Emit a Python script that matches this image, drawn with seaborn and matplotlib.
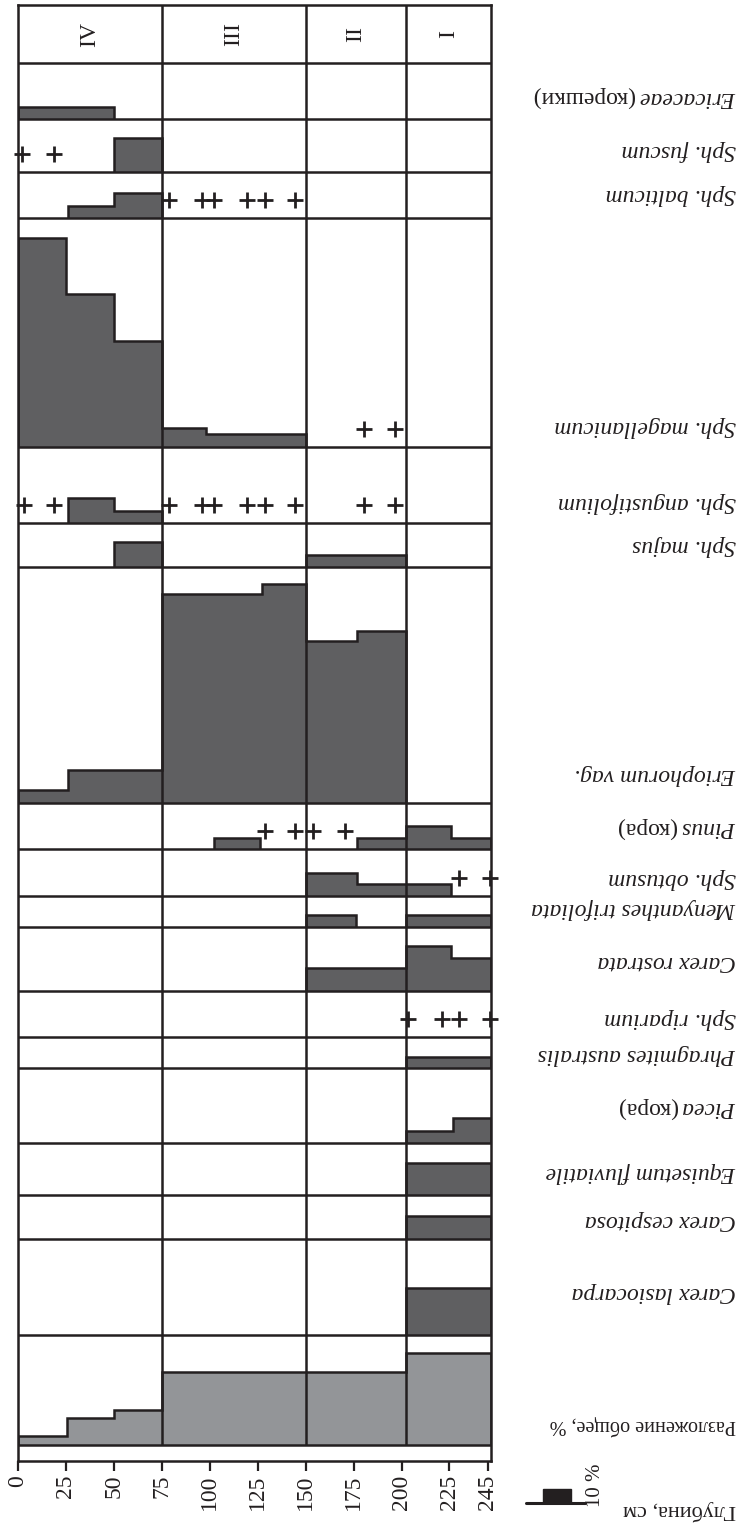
import matplotlib
matplotlib.use("Agg")
import numpy as np
import seaborn as sns
import matplotlib.pyplot as plt
import matplotlib.transforms as mtransforms
from matplotlib.patches import Rectangle
from matplotlib.lines import Line2D

sns.set_theme(style="white")
plt.rcParams['font.family'] = ['Liberation Serif', 'DejaVu Serif']

# --- data: depth segments (from, to, %) and "+" finds (depth, cm) ---
zone_names = ["IV", "III", "II", "I"]
zone_edges = [0, 75, 150, 202.5, 246.5]
depth_ticks = [0, 25, 50, 75, 100, 125, 150, 175, 200, 225, 245]

ericaceae = [(0, 50, 5)]
fuscum = [(50, 75, 14.5)]
fuscum_plus = [2, 19]
balticum = [(26, 50, 5), (50, 75, 10.5)]
balticum_plus = [79, 96, 102, 119.5, 129, 144.5]
magellanicum = [(0, 25, 89), (25, 50, 65), (50, 75, 45), (75, 98, 8), (98, 150, 5.5)]
magellanicum_plus = [180.5, 196.5]
angustifolium = [(26, 50, 10.5), (50, 75, 5)]
angustifolium_plus = [3, 19, 79, 96, 102, 119.5, 129, 144.5, 180.5, 196.5]
majus = [(50, 75, 10.5), (150, 202.5, 5)]
eriophorum = [(0, 26, 5.5), (26, 75, 14), (75, 127, 89), (127, 150, 93),
              (150, 177, 69), (177, 202.5, 73)]
pinus = [(102, 126, 4.5), (177, 202.5, 4.5), (202.5, 226, 10), (226, 246.5, 4.5)]
pinus_plus = [129, 144.5, 154, 170.5]
obtusum = [(150, 177, 10), (177, 226, 5)]
obtusum_plus = [230, 246]
menyanthes = [(150, 176, 5), (202.5, 246.5, 5)]
rostrata = [(150, 202.5, 10), (202.5, 226, 19), (226, 246.5, 14)]
riparium_plus = [203.5, 221, 230, 246]
phragmites = [(202.5, 246.5, 4.5)]
picea = [(202.5, 227, 5), (227, 246.5, 10.5)]
equisetum = [(202.5, 246.5, 13.5)]
cespitosa = [(202.5, 246.5, 10)]
lasiocarpa = [(202.5, 246.5, 20)]
decomposition = [(0, 25.5, 4), (25.5, 50, 11.5), (50, 75, 15), (75, 150, 31),
                 (150, 202.5, 31), (202.5, 246.5, 39)]

rows = [
    ("Ericaceae", "(корешки)", ericaceae, []),
    ("Sph. fuscum", "", fuscum, fuscum_plus),
    ("Sph. balticum", "", balticum, balticum_plus),
    ("Sph. magellanicum", "", magellanicum, magellanicum_plus),
    ("Sph. angustifolium", "", angustifolium, angustifolium_plus),
    ("Sph. majus", "", majus, []),
    ("Eriophorum vag.", "", eriophorum, []),
    ("Pinus", "(кора)", pinus, pinus_plus),
    ("Sph. obtusum", "", obtusum, obtusum_plus),
    ("Menyanthes trifoliata", "", menyanthes, []),
    ("Carex rostrata", "", rostrata, []),
    ("Sph. riparium", "", [], riparium_plus),
    ("Phragmites australis", "", phragmites, []),
    ("Picea", "(кора)", picea, []),
    ("Equisetum fluviatile", "", equisetum, []),
    ("Carex cespitosa", "", cespitosa, []),
    ("Carex lasiocarpa", "", lasiocarpa, []),
    ("", "Разложение общее, %", decomposition, []),
]

# --- layout (pixels) ---
W, H = 743, 1523
K = 2.35                      # px per 1 %
header_px = 58
row_px = [56, 53, 46, 229, 76, 44, 236, 46, 47, 31, 64, 46, 31, 75, 52, 44, 96, 110]
strip_px = 16
label_off_px = [22, 21, 23, 21, 20, 22, 29, 21, 18, 18, 30, 19, 14, 35, 22, 18, 43, 20]
plus_off_px = 18

dark = "#5f5f61"
light = "#939598"
ink = "#231f20"
lw = 1.8

fig = plt.figure(figsize=(W / 100, H / 100), dpi=100)
ax_left, ax_right, ax_top, ax_bot = 18, 490.7, 5, 1461
ax = fig.add_axes([ax_left / W, (H - ax_bot) / H, (ax_right - ax_left) / W, (ax_bot - ax_top) / H])
total = (ax_bot - ax_top) / K
ax.set_xlim(zone_edges[0], zone_edges[-1])
ax.set_ylim(0, total)

lab_tr = mtransforms.blended_transform_factory(fig.transFigure, ax.transData)

top = total
header_bottom = top - header_px / K
ax.axhline(header_bottom, color=ink, lw=lw)
for name, a, b in zip(zone_names, zone_edges[:-1], zone_edges[1:]):
    ax.text((a + b) / 2, (top + header_bottom) / 2, name, rotation=90,
            ha='center', va='center', fontsize=17, color=ink)

y = header_bottom
for (name, suffix, segs, plus), hpx, off in zip(rows, row_px, label_off_px):
    bottom = y - hpx / K
    ax.axhline(bottom, color=ink, lw=lw, zorder=3)
    color = light if suffix.startswith("Разложение") else dark
    # group contiguous segments into one step outline
    groups = []
    for s in segs:
        if groups and abs(groups[-1][-1][1] - s[0]) < 1e-9:
            groups[-1].append(s)
        else:
            groups.append([s])
    for g in groups:
        edges = [g[0][0]] + [s[1] for s in g]
        vals = [bottom + s[2] for s in g]
        ax.stairs(vals, edges, baseline=bottom, fill=True, facecolor=color,
                  edgecolor=ink, linewidth=lw, zorder=2)
    if plus:
        ax.plot(plus, [bottom + plus_off_px / K] * len(plus), '+', color=ink,
                ms=11, mew=2.0, clip_on=False, zorder=4)
    ly = bottom + off / K
    if name:
        t = ax.text(736 / W, ly, name, transform=lab_tr, rotation=180,
                    rotation_mode='anchor', ha='left', va='center',
                    fontsize=17, style='italic', color=ink)
        if suffix:
            ax.annotate(suffix, xy=(0, 0.5), xycoords=t, xytext=(-4, 0),
                        textcoords='offset points', rotation=180,
                        rotation_mode='anchor', ha='left', va='center',
                        fontsize=17, color=ink)
    else:
        ax.text(736 / W, ly, suffix, transform=lab_tr, rotation=180,
                rotation_mode='anchor', ha='left', va='center',
                fontsize=14.5, color=ink)
    y = bottom

ax.vlines(zone_edges[1:-1], y, top, color=ink, lw=lw, zorder=3)

for sp in ax.spines.values():
    sp.set_color(ink)
    sp.set_linewidth(lw)
    sp.set_visible(True)
ax.set_yticks([])
ax.set_xticks(depth_ticks)
ax.set_xticklabels([str(d) for d in depth_ticks], rotation=90, fontsize=17, color=ink)
ax.tick_params(axis='x', bottom=True, length=7, width=1.6, color=ink, pad=3, direction='out')

# depth label and 10 % scale
fig.text(736 / W, 1 - 1510 / H, "Глубина, см", rotation=180, rotation_mode='anchor',
         ha='left', va='center', fontsize=16, color=ink)
fig.add_artist(Rectangle((543 / W, 1 - 1503 / H), 28 / W, 14 / H,
                         transform=fig.transFigure, facecolor=ink, edgecolor=ink))
fig.add_artist(Line2D([526 / W, 585 / W], [1 - 1503 / H] * 2, transform=fig.transFigure,
                      color=ink, lw=2.2))
fig.text(596 / W, 1 - 1485 / H, "10 %", rotation=90, ha='center', va='center',
         fontsize=15, color=ink)

fig.savefig("out.png", dpi=100, facecolor='white')
